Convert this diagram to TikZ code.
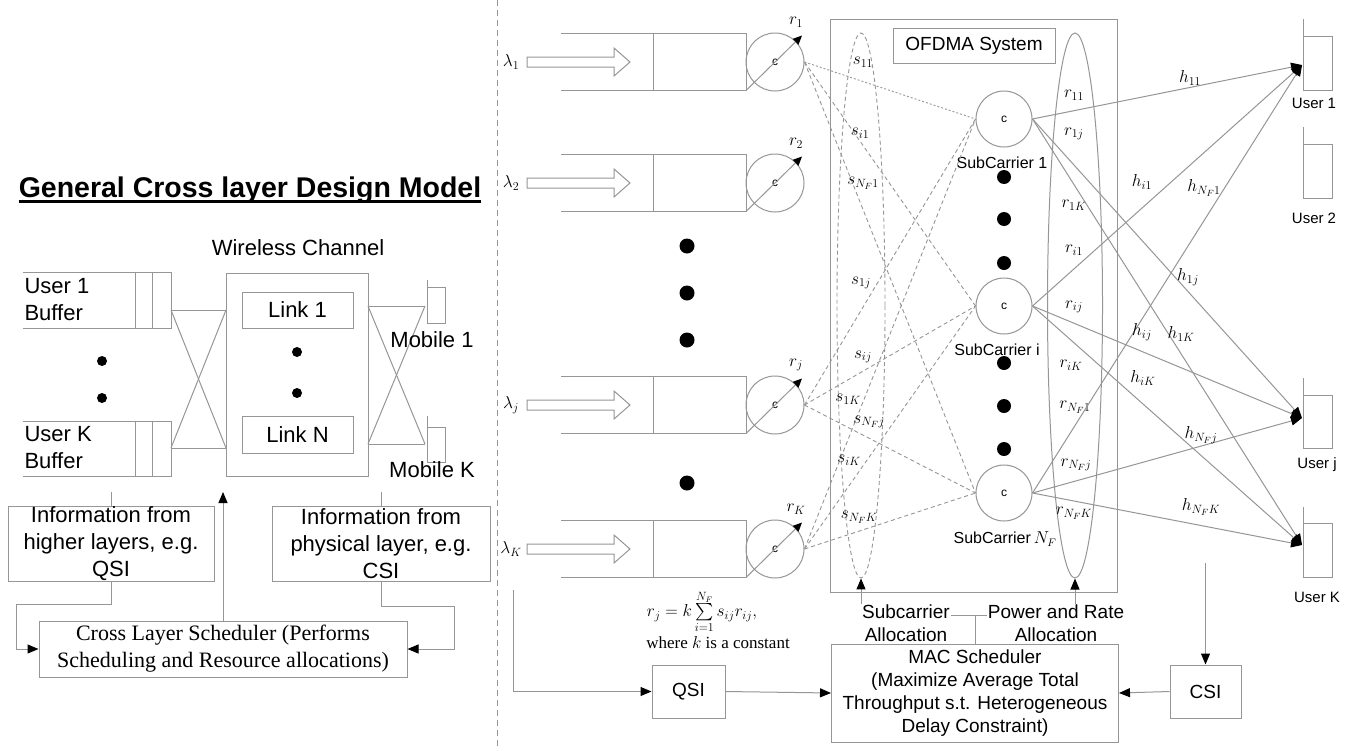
\documentclass[tikz,border=0pt]{standalone}
\usepackage{exscale}
\usepackage{fontspec}
\setmainfont{Liberation Serif}
\setsansfont{Liberation Sans}
\usetikzlibrary{arrows.meta,shapes.geometric}
\definecolor{lc}{RGB}{150,150,150}
\newcommand\fsz[2]{\fontsize{#1}{#2}\selectfont}
\begin{document}
\begin{tikzpicture}[x=1pt,y=-1pt,
  ln/.style={draw=lc, line width=1},
  dl/.style={draw=lc, line width=0.9, dash pattern=on 4pt off 3pt},
  arw/.style={-{Triangle[length=11pt,width=9pt,color=black]}},
  sarw/.style={-{Triangle[length=9pt,width=8pt,color=black]}},
  bx/.style={draw=lc, line width=1, rectangle, inner sep=0pt, align=center},
  sfL/.style={font=\sffamily\fsz{22}{27}, align=center},
  sfR/.style={font=\sffamily\fsz{19}{23}, align=center},
  sfS/.style={font=\sffamily\fsz{16}{19}},
  sfU/.style={font=\sffamily\fsz{15}{18}},
  ml/.style={font=\fsz{17.5}{20}},
  dotS/.style={circle, fill=black, inner sep=0pt, minimum size=10pt},
  dotB/.style={circle, fill=black, inner sep=0pt, minimum size=15pt},
  qc/.style={circle, draw=lc, line width=1, minimum size=58pt, inner sep=0pt, font=\sffamily\fsz{12}{14}},
]
\useasboundingbox (0,0) rectangle (1362,750);
\fill[white] (0,0) rectangle (1362,750);

% ================= LEFT PART =================
\node[font=\sffamily\bfseries\fsz{28.5}{32}, inner sep=0pt, anchor=base] (title) at (250,197) {General Cross layer Design Model};
\draw[line width=2.2] ([yshift=-4.5pt]title.base west) -- ([yshift=-4.5pt]title.base east);
\node[sfL] (wct) at (298,248) {Wireless Channel};
\node[bx, minimum width=142, minimum height=203] (wc) at (297,374.5) {};
\node[bx, sfL, minimum width=111, minimum height=36] (l1) at (297.5,310) {Link 1};
\node[bx, sfL, minimum width=111, minimum height=37] (lN) at (297.5,434.5) {Link N};
\node[dotS] (wd1) at (297,352) {};
\node[dotS] (wd2) at (297,393) {};

% buffers
\draw[ln] (23,272) -- (171,272) -- (171,328) -- (23,328);
\draw[ln] (135,272) -- (135,328);
\draw[ln] (152,272) -- (152,328);
\draw[ln] (23,421) -- (171,421) -- (171,476) -- (23,476);
\draw[ln] (135,421) -- (135,476);
\draw[ln] (152,421) -- (152,476);
\node[sfL, anchor=west, align=left] (ub1) at (21,300) {User 1\\Buffer};
\node[sfL, anchor=west, align=left] (ubK) at (21,448) {User K\\Buffer};
\node[dotS] (ld1) at (102,361) {};
\node[dotS] (ld2) at (102,398) {};

% crossing links
\coordinate (bA) at (171,310); \coordinate (bB) at (171,448);
\coordinate (cA) at (226,310); \coordinate (cB) at (226,448);
\draw[ln] (bA) -- (cA); \draw[ln] (bB) -- (cB);
\draw[ln] (bA) -- (cB); \draw[ln] (bB) -- (cA);
\coordinate (dA) at (368,306); \coordinate (dB) at (368,444);
\coordinate (mA) at (425,306); \coordinate (mB) at (425,444);
\draw[ln] (dA) -- (mA); \draw[ln] (dB) -- (mB);
\draw[ln] (dA) -- (mB); \draw[ln] (dB) -- (mA);

% mobiles
\draw[ln] (427,280) -- (427,323) -- (445,323) -- (445,287) -- (427,287);
\draw[ln] (427,416) -- (427,462) -- (445,462) -- (445,427) -- (427,427);
\node[sfL] (mob1) at (432,340) {Mobile 1};
\node[sfL] (mobK) at (432,470) {Mobile K};

% info boxes
\node[bx, sfL, minimum width=206, minimum height=75] (info1) at (111,543.5) {Information from\\higher layers, e.g.\\QSI};
\node[bx, sfL, minimum width=218, minimum height=75] (info2) at (381,543.5) {Information from\\physical layer, e.g.\\CSI};
\node[bx, font=\fsz{22}{27}, minimum width=368, minimum height=56] (cls) at (223,649) {Cross Layer Scheduler (Performs\\Scheduling and Resource allocations)};
\coordinate (t1) at (111,492);
\coordinate (t2) at (381,492);
\coordinate (t3) at (223,492);
\draw[ln] (t1) -- (info1.north);
\draw[ln] (t2) -- (info2.north);
\draw[ln, arw] (cls.north) -- (t3);
\coordinate (a1) at (16,604);
\coordinate (a2) at (454,606);
\draw[ln, arw] (info1.south) |- (a1) |- (cls.west);
\draw[ln, arw] (info2.south) |- (a2) |- (cls.east);

% separator
\draw[draw=lc, line width=1, dash pattern=on 6pt off 4pt] (497,0) -- (497,750);

% ================= RIGHT PART =================
\foreach \n/\y/\l in {1/62/1, 2/183/2, 3/405/j, 4/549/K} {
  \draw[ln] (561,\y-28.5) -- (746,\y-28.5) -- (746,\y+28.5) -- (561,\y+28.5);
  \draw[ln] (653,\y-28.5) -- (653,\y+28.5);
  \node[qc] (q\n) at (775,\y) {c};
  \coordinate (qa\n) at (746,\y+28.5);
  \coordinate (qb\n) at (802,\y-26.5);
  \draw[ln, sarw] (qa\n) -- (qb\n);
  \node[ml] (r\n) at (796,\y-40) {$r_{\l}$};
  \node[ml] (lam\n) at (511,\y) {$\lambda_{\l}$};
  \draw[ln] (527,\y-5) -- (614,\y-5) -- (614,\y-14) -- (630,\y) -- (614,\y+14) -- (614,\y+5) -- (527,\y+5) -- cycle;
}
\node[dotB] (qd1) at (687,246) {};
\node[dotB] (qd2) at (687,293) {};
\node[dotB] (qd3) at (687,340) {};
\node[dotB] (qd4) at (687,483) {};

% OFDMA system
\node[bx, minimum width=287, minimum height=573] (ofdma) at (973.5,305.5) {};
\node[bx, font=\sffamily\fsz{19}{22}, minimum width=162, minimum height=35] (ofl) at (974,45.5) {OFDMA System};
\node[ellipse, draw=lc, line width=0.9, dash pattern=on 4pt off 3pt, minimum width=48, minimum height=545, inner sep=0pt] (sel) at (861,305.5) {};
\node[ellipse, ln, minimum width=55, minimum height=545, inner sep=0pt] (rel) at (1075,305.5) {};

\node[qc, minimum size=56pt] (sc1) at (1004,119) {c};
\node[qc, minimum size=56pt] (sci) at (1004,306) {c};
\node[qc, minimum size=56pt] (scN) at (1004,493) {c};
\node[sfS] (sc1l) at (1002,163) {SubCarrier 1};
\node[sfS] (scil) at (997,350) {SubCarrier i};
\node[sfS] (scNl) at (1005,539) {SubCarrier$\,N_F$};
\foreach \n/\y in {1/177,2/219,3/263,4/363,5/406,6/449} {
  \node[circle, fill=black, inner sep=0pt, minimum size=14pt] (od\n) at (1004,\y) {};
}

% dashed allocation lines
\draw[draw=lc, line width=0.9, dash pattern=on 2pt off 2pt] (q1.east) -- (sc1.west);
\foreach \q/\s in {q1/sci, q1/scN, q3/sc1, q3/sci, q3/scN, q4/sc1, q4/sci, q4/scN} {
  \draw[dl] (\q.east) -- (\s.west);
}

% s labels
\node[ml] (s11) at (863,62) {$s_{11}$};
\node[ml] (si1) at (860,133) {$s_{i1}$};
\node[ml] (sN1) at (863,183) {$s_{N_F1}$};
\node[ml] (s1j) at (861,283) {$s_{1j}$};
\node[ml] (sij) at (863,357) {$s_{ij}$};
\node[ml] (s1K) at (848,399) {$s_{1K}$};
\node[ml] (sNj) at (869,422) {$s_{N_Fj}$};
\node[ml] (siK) at (849,460) {$s_{iK}$};
\node[ml] (sNK) at (859,517) {$s_{N_FK}$};

% r labels
\node[ml] (r11) at (1074,95) {$r_{11}$};
\node[ml] (r1j) at (1074,134) {$r_{1j}$};
\node[ml] (r1K) at (1074,205) {$r_{1K}$};
\node[ml] (ri1) at (1074,250) {$r_{i1}$};
\node[ml] (rij) at (1074,307) {$r_{ij}$};
\node[ml] (riK) at (1071,365) {$r_{iK}$};
\node[ml] (rN1) at (1075,407) {$r_{N_F1}$};
\node[ml] (rNj) at (1076,465) {$r_{N_Fj}$};
\node[ml] (rNK) at (1074,513) {$r_{N_FK}$};

% users
\draw[ln] (1303,19) -- (1303,90) -- (1332,90) -- (1332,36) -- (1303,36);
\draw[ln] (1303,127) -- (1303,198) -- (1332,198) -- (1332,144) -- (1303,144);
\draw[ln] (1303,378) -- (1303,448) -- (1332,448) -- (1332,395) -- (1303,395);
\draw[ln] (1303,507) -- (1303,577) -- (1332,577) -- (1332,523) -- (1303,523);
\node[sfU] (us1) at (1314,103) {User 1};
\node[sfU] (us2) at (1314,218) {User 2};
\node[sfU] (usj) at (1317,465) {User j};
\node[sfU] (usK) at (1317,597) {User K};
\coordinate (u1) at (1302,65);
\coordinate (uj) at (1302,418);
\coordinate (uK) at (1302,545);
\foreach \s in {sc1,sci,scN} {
  \foreach \u in {u1,uj,uK} {
    \draw[ln, arw] (\s.east) -- (\u);
  }
}

% h labels
\node[ml] (h11) at (1190,78) {$h_{11}$};
\node[ml] (hi1) at (1142,182) {$h_{i1}$};
\node[ml] (hN1) at (1204,188) {$h_{N_F1}$};
\node[ml] (h1j) at (1188,277) {$h_{1j}$};
\node[ml] (hij) at (1142,332) {$h_{ij}$};
\node[ml] (h1K) at (1181,334) {$h_{1K}$};
\node[ml] (hiK) at (1143,378) {$h_{iK}$};
\node[ml] (hNj) at (1201,435) {$h_{N_Fj}$};
\node[ml] (hNK) at (1201,507) {$h_{N_FK}$};

% bottom: MAC scheduler etc.
\node[bx, sfR, minimum width=287, minimum height=98] (mac) at (975,693) {MAC Scheduler\\(Maximize Average Total\\Throughput s.t. Heterogeneous\\Delay Constraint)};
\node[bx, sfR, minimum width=73, minimum height=53] (qsi) at (688.5,691.5) {QSI};
\node[bx, sfR, minimum width=71, minimum height=53] (csi) at (1205.5,691.5) {CSI};
\coordinate (qsrc) at (513,590);
\coordinate (csrc) at (1205.5,563);
\draw[ln, arw] (qsrc) |- (qsi.west);
\draw[ln, arw] (qsi.east) -- (mac.west);
\draw[ln, arw] (csi.west) -- (mac.east);
\draw[ln, arw] (csrc) -- (csi.north);
\draw[ln, arw] (mac.north) -- ++(0,-28) -| (sel.south);
\draw[ln, arw] (mac.north) -- ++(0,-28) -| (rel.south);
\node[sfR, fill=white, inner sep=1pt] (suba) at (906,623) {Subcarrier\\Allocation};
\node[sfR, fill=white, inner sep=1pt] (pra) at (1056,623) {Power and Rate\\Allocation};

\node[font=\fsz{17}{20}, inner sep=0pt] (form) at (702,612) {$r_j = k\sum\limits_{i=1}^{N_F} s_{ij} r_{ij},$};
\node[font=\fsz{17}{20}, inner sep=0pt, anchor=north] (where) at (718,636) {where $k$ is a constant};
\end{tikzpicture}
\end{document}
